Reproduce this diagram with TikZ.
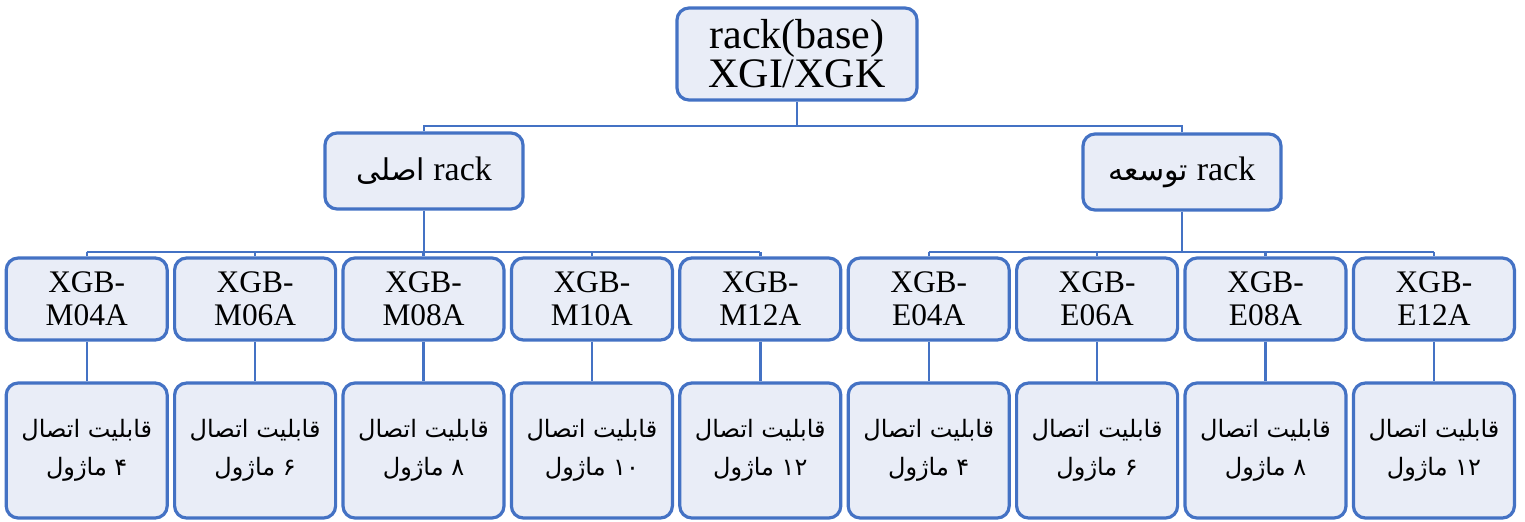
\documentclass[tikz,border=0pt]{standalone}
\usepackage{fontspec}
\setmainfont{Liberation Serif}
\newfontfamily\fa[Script=Arabic]{DejaVu Sans}
\TeXXeTstate=1
\usetikzlibrary{positioning}
\definecolor{boxblue}{HTML}{4472C4}
\definecolor{boxfill}{HTML}{E9EDF7}
\tikzset{
  card/.style={draw=boxblue,fill=boxfill,line width=1.6pt,rounded corners=6pt,align=center,inner sep=0pt},
  rootbox/.style={card,minimum width=120pt,minimum height=46pt,font=\fontsize{21}{18}\selectfont},
  rackbox/.style={card,minimum width=99pt,minimum height=38pt,font=\fontsize{17}{18}\selectfont},
  modbox/.style={card,minimum width=80.5pt,minimum height=41pt,font=\fontsize{15.7}{16.5}\selectfont},
  capbox/.style={card,minimum width=80.5pt,minimum height=67.5pt,font=\fa\fontsize{12}{19}\selectfont},
  link/.style={draw=boxblue,line width=1.2pt}
}
\begin{document}
\begin{tikzpicture}[x=0.5pt,y=-0.5pt]
\useasboundingbox (0,0) rectangle (1525,521);
\node[rootbox] (root) at (797,54) {rack(base)\\XGI/XGK};
\node[rackbox] (main) at (424,171) {{\fa\fontsize{15}{18}\selectfont\beginR اصلی\endR} rack};
\node[rackbox] (ext) at (1182,172) {{\fa\fontsize{15}{18}\selectfont\beginR توسعه\endR} rack};
\coordinate (bar1) at (797,126);
\coordinate (bar2) at (797,252);
\draw[link] (root.south) -- (root.south |- bar1);
\draw[link] (main.north) -- (main.north |- bar1) -- (ext.north |- bar1) -- (ext.north);
\draw[link] (main.south) -- (main.south |- bar2);
\draw[link] (ext.south) -- (ext.south |- bar2);
% modules and their capacity
\foreach \name/\lbl/\num [count=\i from 0] in {m1/M04A/۴,m2/M06A/۶,m3/M08A/۸,m4/M10A/۱۰,m5/M12A/۱۲,e1/E04A/۴,e2/E06A/۶,e3/E08A/۸,e4/E12A/۱۲} {
  \node[modbox] (\name) at (86.7+168.4*\i,299) {XGB-\\\lbl};
  \node[capbox] (c\name) at (86.7+168.4*\i,450.5) {\beginR قابلیت اتصال\endR\\\beginR\beginL\num\endL{} ماژول\endR};
  \draw[link] (\name) -- (c\name);
  \draw[link] (\name.north) -- (\name.north |- bar2);
}
\draw[link] (m1.north |- bar2) -- (m5.north |- bar2);
\draw[link] (e1.north |- bar2) -- (e4.north |- bar2);
\end{tikzpicture}
\end{document}
